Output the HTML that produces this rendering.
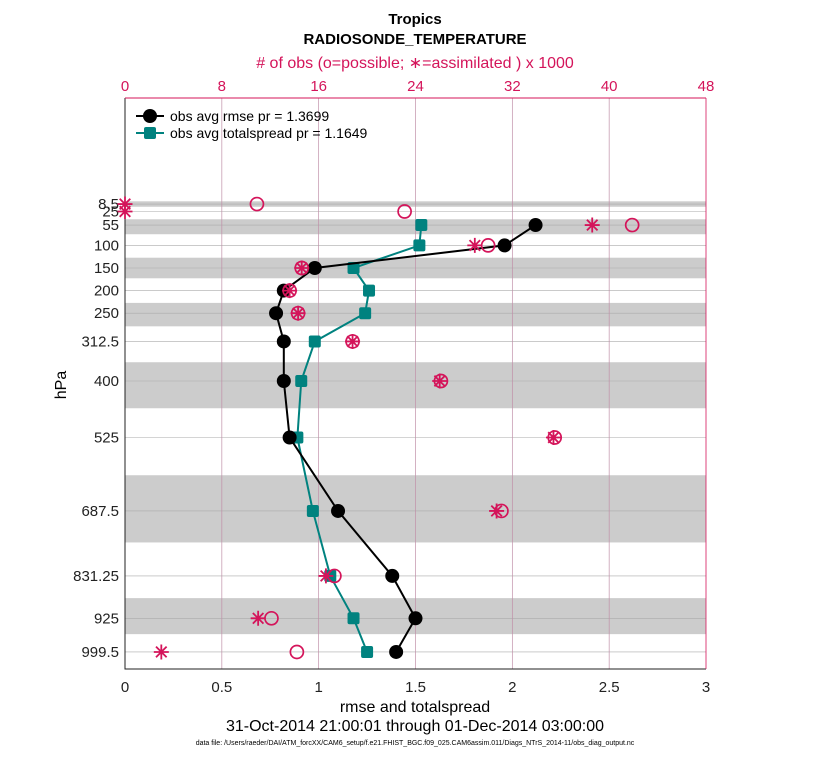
<!DOCTYPE html>
<html><head><meta charset="utf-8"><style>
body{margin:0;background:#fff;}
svg{font-family:"Liberation Sans",Arial,sans-serif;}
</style></head><body>
<svg id="c" width="830" height="760" xmlns="http://www.w3.org/2000/svg">
<g id="g"></g>
</svg>
<script>
const levels=[8.5,25,55,100,150,200,250,312.5,400,525,687.5,831.25,925,999.5];
const levelLabels=["8.5","25","55","100","150","200","250","312.5","400","525","687.5","831.25","925","999.5"];
const rmseLevels=[55,100,150,200,250,312.5,400,525,687.5,831.25,925,999.5];
const rmse=[2.12,1.96,0.98,0.82,0.78,0.82,0.82,0.85,1.10,1.38,1.50,1.40];
const spread=[1.53,1.52,1.18,1.26,1.24,0.98,0.91,0.89,0.97,1.06,1.18,1.25];
const obsPossible=[10.9,23.1,41.9,30.0,14.6,13.6,14.3,18.8,26.1,35.5,31.1,17.3,12.1,14.2];
const obsAssim=[0,0,38.6,28.9,14.6,13.6,14.3,18.8,26.0,35.4,30.7,16.6,11.0,3.0];
const xTicks=[0,0.5,1,1.5,2,2.5,3];
const xTickLabels=["0","0.5","1","1.5","2","2.5","3"];
const topTicks=[0,8,16,24,32,40,48];

const NS="http://www.w3.org/2000/svg";
const L=125,R=706,T=98,B=669;
const X=v=>L+(v/3)*(R-L);
const XT=v=>L+(v/48)*(R-L);
const Y=p=>200.2+0.452*p;
const g=document.getElementById('g');
function el(t,a,txt){const e=document.createElementNS(NS,t);for(const k in a)e.setAttribute(k,a[k]);if(txt!==undefined)e.textContent=txt;g.appendChild(e);return e;}
const red="#d4145a",teal="#00827f";
for(let i=0;i<levels.length;i+=2){
  const p=levels[i];
  const up=i>0?(levels[i-1]+p)/2:p-(levels[1]-p)/2;
  const dn=i<levels.length-1?(levels[i+1]+p)/2:p+(p-levels[i-1])/2;
  const b=el('rect',{x:L,y:Y(up)+1,width:R-L,height:Y(dn)-Y(up)-2,fill:'#cccccc'});
  
  
}
levels.forEach((p,i)=>{
  const l=el('line',{x1:L,x2:R,y1:Y(p),y2:Y(p),stroke:'#aaaaaa','stroke-width':0.6});
  
  
  const t=el('text',{x:L-6,y:Y(p)+5,'text-anchor':'end','font-size':15,fill:'#222'},levelLabels[i]);
  
  
});
xTicks.forEach((v,i)=>{
  if(v>0&&v<3){const l=el('line',{x1:X(v),x2:X(v),y1:T,y2:B,stroke:'#c090a8','stroke-width':0.7});
  
  }
  const t=el('text',{x:X(v),y:B+23,'text-anchor':'middle','font-size':15,fill:'#222'},xTickLabels[i]);
  
  
});
topTicks.forEach(v=>{
  const t=el('text',{x:XT(v),y:T-7,'text-anchor':'middle','font-size':15,fill:red},String(v));
  
  
});
const bx=el('path',{d:`M${L},${T}V${B}H${R}`,fill:'none',stroke:'#222','stroke-width':1});


el('line',{x1:L,x2:R,y1:T,y2:T,stroke:red,'stroke-width':1});
el('line',{x1:R,x2:R,y1:T,y2:B,stroke:red,'stroke-width':0.8});
function series(vals,color,name,marker){
  const pts=vals.map((v,i)=>X(v)+','+Y(rmseLevels[i])).join(' ');
  const pl=el('polyline',{points:pts,fill:'none',stroke:color,'stroke-width':2});
  
  
  vals.forEach((v,i)=>{
    let m;
    if(marker==='c') m=el('circle',{cx:X(v),cy:Y(rmseLevels[i]),r:7,fill:color});
    else m=el('rect',{x:X(v)-6,y:Y(rmseLevels[i])-6,width:12,height:12,rx:2,fill:color});
    
    
  });
}
series(spread,teal,'spread','s');
series(rmse,'#000','rmse','c');
function star(cx,cy){
  const r=7.5;let d='';
  for(let k=0;k<4;k++){const a=k*Math.PI/4;d+=`M${cx-r*Math.cos(a)},${cy-r*Math.sin(a)}L${cx+r*Math.cos(a)},${cy+r*Math.sin(a)}`;}
  const s=el('path',{d:d,stroke:red,'stroke-width':1.8,fill:'none'});
  
  
}
levels.forEach((p,i)=>{
  const c=el('circle',{cx:XT(obsPossible[i]),cy:Y(p),r:6.5,fill:'none',stroke:red,'stroke-width':1.7});
  
  
  star(XT(obsAssim[i]),Y(p));
});
function leg(y,color,label,marker){
  el('line',{x1:136,x2:164,y1:y,y2:y,stroke:color,'stroke-width':2});
  if(marker==='c')el('circle',{cx:150,cy:y,r:7,fill:color});else el('rect',{x:144,y:y-6,width:12,height:12,rx:2,fill:color});
  const t=el('text',{x:170,y:y+5,'font-size':14,fill:'#000'},label);
  
  
}
leg(116,'#000','obs avg rmse pr = 1.3699','c');
leg(133,teal,'obs avg totalspread pr = 1.1649','s');
function tx(x,y,s,txt,name,extra){const t=el('text',Object.assign({x:x,y:y,'text-anchor':'middle','font-size':s,fill:'#000'},extra||{}),txt);return t;}
tx(415,24,15,'Tropics','title',{'font-weight':'bold'});
tx(415,44,15,'RADIOSONDE_TEMPERATURE','subtitle',{'font-weight':'bold'});
tx(415,68,16,'# of obs (o=possible; \u2217=assimilated ) x 1000','top-axis-title',{fill:red});
tx(415,712,16,'rmse and totalspread','x-axis-title');
tx(415,731,16,'31-Oct-2014 21:00:01 through 01-Dec-2014 03:00:00','date-range');
tx(415,745,7,'data file: /Users/raeder/DAI/ATM_forcXX/CAM6_setup/f.e21.FHIST_BGC.f09_025.CAM6assim.011/Diags_NTrS_2014-11/obs_diag_output.nc','data-file-note');
tx(66,385,16,'hPa','y-axis-title',{transform:'rotate(-90 66 385)'});
</script>
</body></html>
